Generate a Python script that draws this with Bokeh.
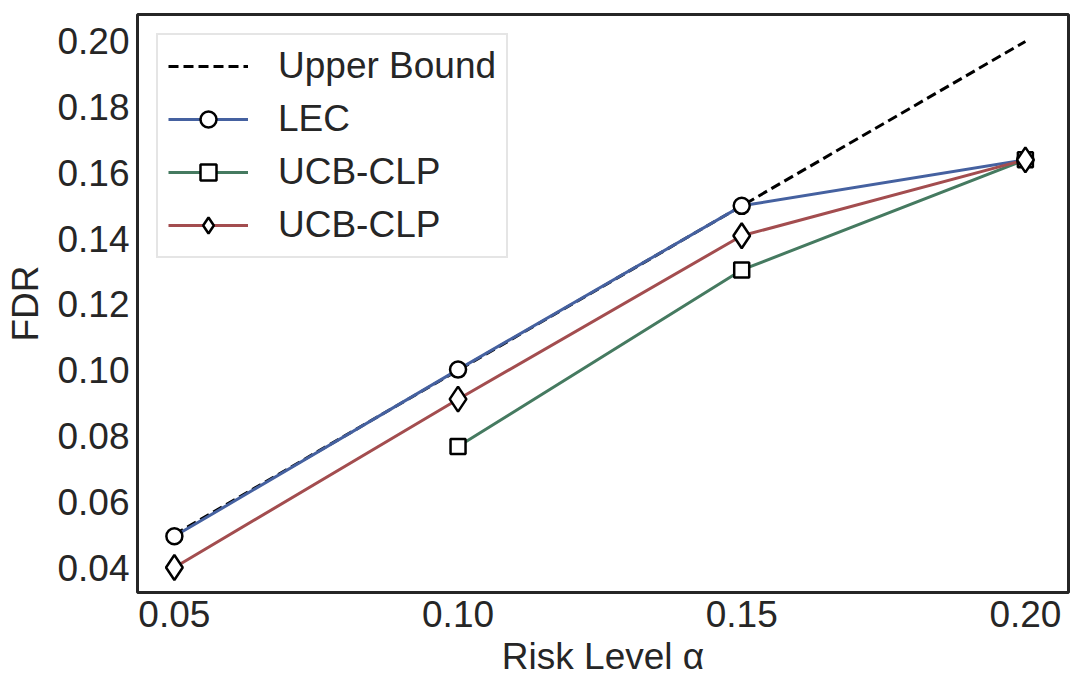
from bokeh.plotting import figure
from bokeh.models import Legend, LegendItem, FixedTicker, PrintfTickFormatter, Range1d
from bokeh.embed import file_html
from bokeh.resources import INLINE

alpha = [0.05, 0.10, 0.15, 0.20]
upper = [0.05, 0.10, 0.15, 0.20]
lec = [0.0495, 0.1002, 0.1500, 0.1640]
ucb_sq = [float("nan"), 0.0768, 0.1305, 0.1640]
ucb_dm = [0.0400, 0.0912, 0.1409, 0.1640]
x_ticks = [0.05, 0.10, 0.15, 0.20]
y_ticks = [0.04, 0.06, 0.08, 0.10, 0.12, 0.14, 0.16, 0.18, 0.20]

FONT = "Liberation Sans"
TXT = "#262626"

p = figure(width=1075, height=684, output_backend="svg", toolbar_location=None,
           x_range=Range1d(0.0435, 0.2076), y_range=Range1d(0.0324, 0.2082),
           min_border_left=137, min_border_right=7, min_border_top=14, min_border_bottom=92)
p.background_fill_color = "white"
p.border_fill_color = "white"
p.grid.visible = False
p.outline_line_color = TXT
p.outline_line_width = 3

for ax in (p.xaxis, p.yaxis):
    ax.axis_line_color = None
    ax.major_tick_line_color = None
    ax.minor_tick_line_color = None
    ax.major_tick_out = 0
    ax.major_tick_in = 0
    ax.minor_tick_out = 0
    ax.major_label_text_font = FONT
    ax.major_label_text_font_size = "37px"
    ax.major_label_text_color = TXT
    ax.axis_label_text_font = FONT
    ax.axis_label_text_font_size = "37px"
    ax.axis_label_text_color = TXT
    ax.axis_label_text_font_style = "normal"

p.xaxis.ticker = FixedTicker(ticks=x_ticks)
p.yaxis.ticker = FixedTicker(ticks=y_ticks)
p.xaxis.formatter = PrintfTickFormatter(format="%.2f")
p.yaxis.formatter = PrintfTickFormatter(format="%.2f")
p.xaxis.major_label_standoff = 8
p.yaxis.major_label_standoff = 8
p.xaxis.axis_label = "Risk Level α"
p.yaxis.axis_label = "FDR"
p.xaxis.axis_label_standoff = 6
p.yaxis.axis_label_standoff = 8

r_ub = p.line(alpha, upper, line_color="black", line_width=3, line_dash="10 5")

BLUE, GREEN, RED = "#4561A0", "#457A60", "#A34D4F"
r_l1 = p.line(alpha, lec, line_color=BLUE, line_width=3)
r_l2 = p.line(alpha, ucb_sq, line_color=GREEN, line_width=3)
r_l3 = p.line(alpha, ucb_dm, line_color=RED, line_width=3)

r_m1 = p.scatter(alpha, lec, marker="circle", size=16, fill_color="white",
                 line_color="black", line_width=2.5)
r_m2 = p.scatter(alpha, ucb_sq, marker="square", size=15, fill_color="white",
                 line_color="black", line_width=2.5)
r_m3 = p.scatter(alpha, ucb_dm, marker="diamond", size=25, fill_color="white",
                 line_color="black", line_width=2.5)

legend = Legend(items=[
    LegendItem(label="Upper Bound", renderers=[r_ub]),
    LegendItem(label="LEC", renderers=[r_l1, r_m1]),
    LegendItem(label="UCB-CLP", renderers=[r_l2, r_m2]),
    LegendItem(label="UCB-CLP", renderers=[r_l3, r_m3]),
], location="top_left")
legend.margin = 19
legend.padding = 10
legend.spacing = 11
legend.label_height = 40
legend.glyph_height = 40
legend.glyph_width = 80
legend.label_standoff = 30
legend.label_text_font = FONT
legend.label_text_font_size = "37px"
legend.label_text_color = TXT
legend.border_line_color = "#cccccc"
legend.border_line_width = 2
legend.background_fill_color = "white"
legend.background_fill_alpha = 1.0
p.add_layout(legend)

open("out.html", "w").write(file_html(p, INLINE))
